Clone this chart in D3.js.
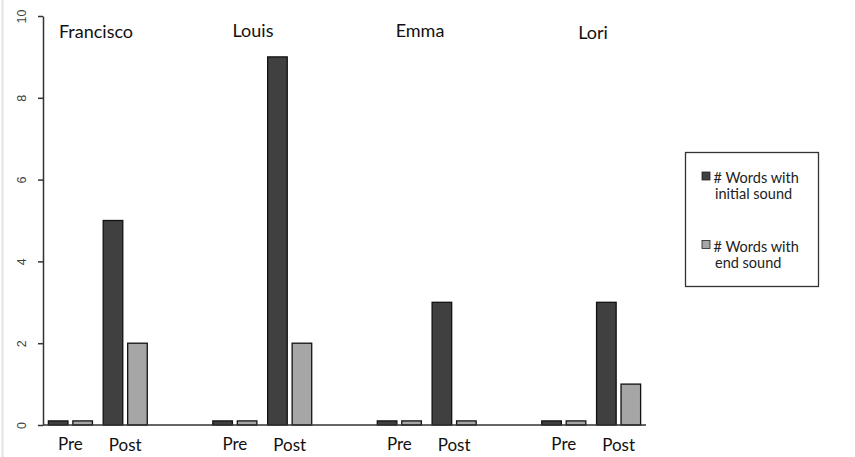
<!DOCTYPE html>
<html>
<head>
<meta charset="utf-8">
<script src="https://cdn.jsdelivr.net/npm/d3@7"></script>
<style>
  html, body { margin: 0; padding: 0; background: #fff; }
  svg { display: block; }
</style>
</head>
<body>
<svg id="chart" width="855" height="457"></svg>
<script>
// ---- data ----
const participants = ["Francisco", "Louis", "Emma", "Lori"];
const phases = ["Pre", "Post"];
const initialSound = [0.1, 5, 0.1, 9, 0.1, 3, 0.1, 3];   // per participant: Pre, Post
const endSound     = [0.1, 2, 0.1, 2, 0.1, 0.1, 0.1, 1];
const seriesNames = ["# Words with initial sound", "# Words with end sound"];
const seriesKeys = ["initial", "end"];
const yTicks = [0, 2, 4, 6, 8, 10];

// ---- layout ----
const svg = d3.select("#chart");
const W = 855, H = 457;
const plot = { left: 43, right: 646, top: 16, bottom: 425 };

// slots: Pre, Post, gap, Pre, Post, gap, ...
const slots = [];
participants.forEach((p, i) => {
  phases.forEach(ph => slots.push(p + "|" + ph));
  if (i < participants.length - 1) slots.push("gap" + i);
});

const rows = [];
participants.forEach((p, i) => {
  phases.forEach((ph, j) => {
    const k = i * phases.length + j;
    rows.push({ participant: p, phase: ph, slot: p + "|" + ph, initial: initialSound[k], end: endSound[k] });
  });
});

const x = d3.scaleBand().domain(slots).range([plot.left, plot.right]).paddingInner(0).paddingOuter(0);
const xs = d3.scaleBand().domain(seriesKeys).range([0, x.bandwidth()]).paddingInner(0.2).paddingOuter(0.22);
const y = d3.scaleLinear().domain([0, 10]).range([plot.bottom, plot.top]);
const color = d3.scaleOrdinal().domain(seriesKeys).range(["#404040", "#a6a6a6"]);

// left faint border line
svg.append("line").attr("x1", 2.5).attr("x2", 2.5).attr("y1", 0).attr("y2", H)
  .attr("stroke", "#e2e2e2").attr("stroke-width", 2);

// y axis
const yAxis = d3.axisLeft(y).tickValues(yTicks).tickSize(5).tickSizeOuter(0).tickFormat(d3.format("d"));
const yg = svg.append("g").attr("transform", `translate(${plot.left},0)`).call(yAxis);
yg.select(".domain").attr("stroke", "#333").attr("stroke-width", 1.5);
yg.selectAll(".tick line").attr("stroke", "#333").attr("stroke-width", 1.5);
yg.selectAll(".tick text")
  .attr("x", null).attr("dy", null)
  .attr("transform", "translate(-21,0) rotate(-90)")
  .attr("text-anchor", "middle")
  .attr("dominant-baseline", "central")
  .style("font-family", "Liberation Sans, Arial, sans-serif")
  .style("font-size", "12.5px")
  .attr("fill", "#444");

// bars
const groups = svg.append("g").selectAll("g").data(rows).join("g")
  .attr("transform", d => `translate(${x(d.slot)},0)`);
groups.selectAll("rect").data(d => seriesKeys.map(k => ({ key: k, value: d[k] }))).join("rect")
  .attr("x", d => xs(d.key))
  .attr("width", xs.bandwidth())
  .attr("y", d => y(d.value))
  .attr("height", d => y(0) - y(d.value))
  .attr("fill", d => color(d.key))
  .attr("stroke", "#111")
  .attr("stroke-width", 1.3);

// x axis baseline
svg.append("line").attr("x1", plot.left).attr("x2", plot.right)
  .attr("y1", y(0)).attr("y2", y(0)).attr("stroke", "#333").attr("stroke-width", 1.5);

// phase labels
svg.append("g").selectAll("text").data(rows).join("text")
  .attr("x", d => x(d.slot) + x.bandwidth() / 2)
  .attr("y", d => d.phase === "Pre" ? 450 : 451)
  .attr("text-anchor", "middle")
  .style("font-family", "Lato, sans-serif")
  .style("font-size", "17px")
  .attr("fill", "#111")
  .text(d => d.phase);

// participant names
const nameCenters = { Francisco: 96, Louis: 253, Emma: 420, Lori: 593 };
const nameBaselines = { Francisco: 38, Louis: 37, Emma: 37, Lori: 39 };
svg.append("g").selectAll("text").data(participants).join("text")
  .attr("x", d => nameCenters[d])
  .attr("y", d => nameBaselines[d])
  .attr("text-anchor", "middle")
  .style("font-family", "Lato, sans-serif")
  .style("font-size", "18px")
  .attr("fill", "#111")
  .text(d => d);

// legend
const lg = svg.append("g");
lg.append("rect").attr("x", 685.5).attr("y", 152.5).attr("width", 133).attr("height", 134)
  .attr("fill", "#fff").attr("stroke", "#333").attr("stroke-width", 1.3);
const legendItems = [
  { key: "initial", lines: ["# Words with", "initial sound"], y: 172 },
  { key: "end", lines: ["# Words with", "end sound"], y: 240.5 }
];
legendItems.forEach(it => {
  lg.append("rect").attr("x", 702).attr("y", it.y).attr("width", 8).attr("height", 8)
    .attr("fill", color(it.key)).attr("stroke", "#222").attr("stroke-width", 0.8);
  it.lines.forEach((t, i) => {
    lg.append("text").attr("x", i === 0 ? 713.5 : 715).attr("y", it.y + 11 + i * 16)
      .style("font-family", "Lato, sans-serif").style("font-size", "14.5px")
      .attr("fill", "#222").text(t);
  });
});
</script>
</body>
</html>
